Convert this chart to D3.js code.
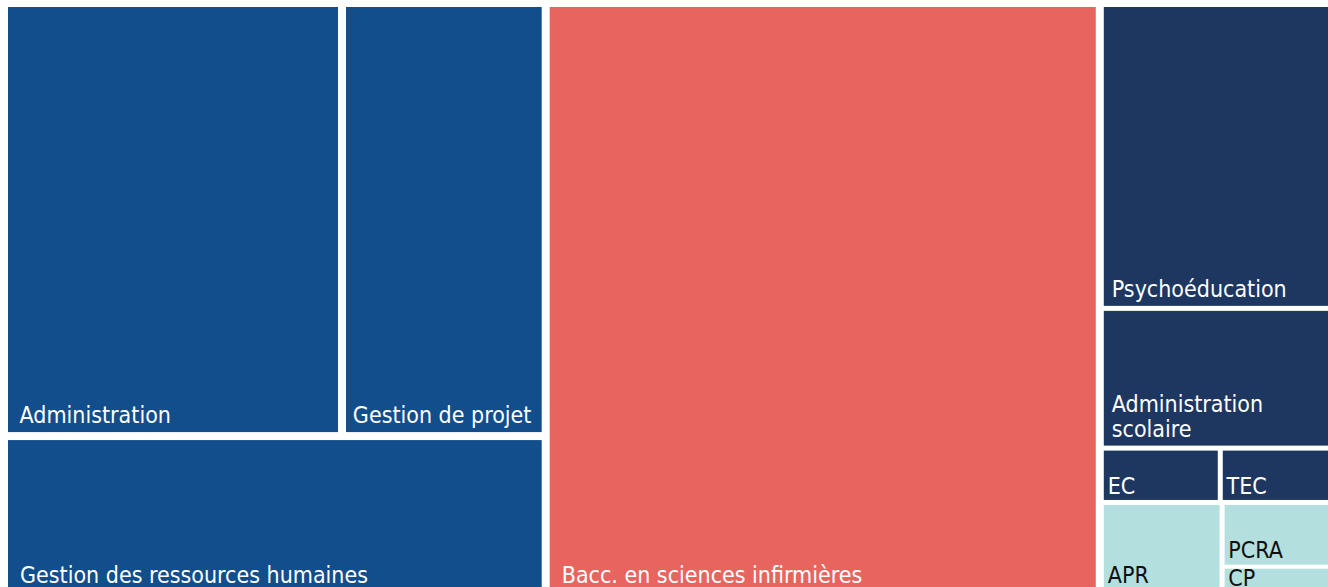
<!DOCTYPE html>
<html>
<head>
  <meta charset="utf-8">
  <title>Programmes</title>
  <script src="https://d3js.org/d3.v7.min.js"></script>
</head>
<style>
  body {
    margin: 0;
    background: #fff;
    overflow: hidden;
  }
  #chart {
    display: block;
  }
  .label {
    font-family: "DejaVu Sans Condensed", "DejaVu Sans", sans-serif;
    font-stretch: condensed;
    font-size: 23px;
  }
</style>
<body>
  <svg id="chart"></svg>
  <script>
    // programmes, grouped the way the boxes are stacked
    const blueTop = ["Administration", "Gestion de projet"];
    const blueTopValues = [556, 335];
    const blueBottom = "Gestion des ressources humaines";
    const blueBottomValue = 329;

    const redName = "Bacc. en sciences infirmières";
    const redValue = 1248;

    const navyBig = ["Psychoéducation", "Administration scolaire"];
    const navyBigValues = [274, 126];
    const navySmall = ["EC", "TEC"];
    const navySmallValues = [25, 24];

    const tealLeft = "APR";
    const tealLeftValue = 43;
    const tealRight = ["PCRA", "CP"];
    const tealRightValues = [28, 12];

    const colors = {
      blue: "#124d8c",
      red: "#e8655f",
      navy: "#1d3761",
      teal: "#b3e0de"
    };
    const textColors = {
      blue: "#ffffff",
      red: "#ffffff",
      navy: "#ffffff",
      teal: "#111111"
    };

    const margin = { top: 7, left: 8 };
    const width = 1324;
    const height = 585;

    const leaf = (name, value, group) => ({ name, value, group });

    const data = {
      name: "root",
      children: [
        {
          name: "blue",
          children: [
            { name: "blueTop", children: blueTop.map((n, i) => leaf(n, blueTopValues[i], "blue")) },
            leaf(blueBottom, blueBottomValue, "blue")
          ]
        },
        leaf(redName, redValue, "red"),
        {
          name: "right",
          children: [
            leaf(navyBig[0], navyBigValues[0], "navy"),
            leaf(navyBig[1], navyBigValues[1], "navy"),
            { name: "navySmall", children: navySmall.map((n, i) => leaf(n, navySmallValues[i], "navy")) },
            {
              name: "teal",
              children: [
                leaf(tealLeft, tealLeftValue, "teal"),
                { name: "tealRight", children: tealRight.map((n, i) => leaf(n, tealRightValues[i], "teal")) }
              ]
            }
          ]
        }
      ]
    };

    const root = d3.hierarchy(data).sum(d => d.value || 0);

    // gap between boxes gets smaller in the narrow column
    d3.treemap()
      .tile(d3.treemapSliceDice)
      .size([width, height])
      .paddingInner(node => {
        const w = node.x1 - node.x0;
        if (w > 300) return 8;
        if (w > 150) return 5;
        return 4;
      })(root);

    const svg = d3.select("#chart")
      .attr("width", 1328)
      .attr("height", 587)
      .append("g")
      .attr("transform", "translate(" + margin.left + "," + margin.top + ")");

    const cells = svg.selectAll(".cell")
      .data(root.leaves())
      .enter().append("g")
      .attr("class", "cell")
      .attr("transform", d => "translate(" + d.x0 + "," + d.y0 + ")");

    cells.append("rect")
      .attr("width", d => d.x1 - d.x0)
      .attr("height", d => d.y1 - d.y0)
      .attr("fill", d => colors[d.data.group]);

    // labels sit at the bottom left of each box, wrapped when too wide
    cells.each(function(d) {
      const w = d.x1 - d.x0;
      const h = d.y1 - d.y0;
      const padX = Math.max(3, Math.min(12, w * 0.035));
      const padB = Math.max(6, Math.min(9, Math.min(w, h) * 0.12));
      const lineH = 25;

      const text = d3.select(this).append("text")
        .attr("class", "label")
        .attr("fill", textColors[d.data.group]);

      const words = d.data.name.split(" ");
      const lines = [];
      let line = [];
      const probe = text.append("tspan");
      words.forEach(word => {
        line.push(word);
        probe.text(line.join(" "));
        if (probe.node().getComputedTextLength() > w - 2 * padX && line.length > 1) {
          line.pop();
          lines.push(line.join(" "));
          line = [word];
        }
      });
      lines.push(line.join(" "));
      probe.remove();

      lines.forEach((l, i) => {
        text.append("tspan")
          .attr("x", padX)
          .attr("y", h - padB - (lines.length - 1 - i) * lineH)
          .text(l);
      });
    });
  </script>
</body>
</html>
